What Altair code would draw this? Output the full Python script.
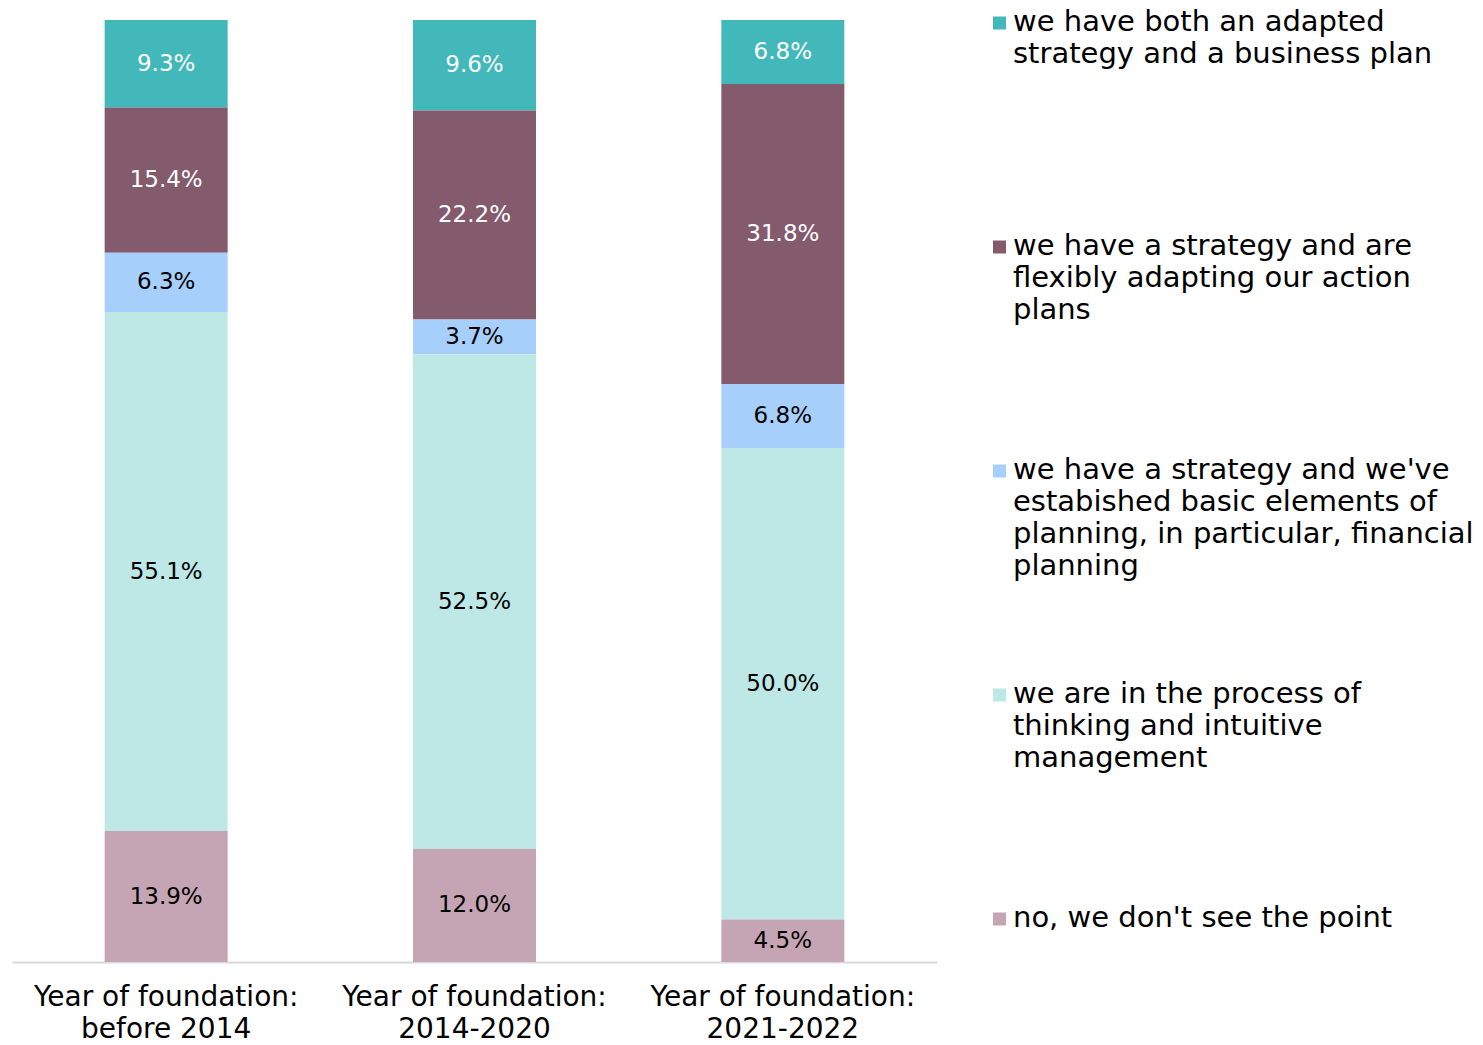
import altair as alt
import pandas as pd

groups = ["before 2014", "2014-2020", "2021-2022"]
categories = [
    "we have both an adapted|strategy and a business plan",
    "we have a strategy and are|flexibly adapting our action|plans",
    "we have a strategy and we've|estabished basic elements of|planning, in particular, financial|planning",
    "we are in the process of|thinking and intuitive|management",
    "no, we don't see the point",
]
colors = ["#43B8BA", "#845A6D", "#A7CFFC", "#BDE8E6", "#C5A5B3"]
label_colors = ["white", "white", "black", "black", "black"]
values = {
    "before 2014": [9.3, 15.4, 6.3, 55.1, 13.9],
    "2014-2020": [9.6, 22.2, 3.7, 52.5, 12.0],
    "2021-2022": [6.8, 31.8, 6.8, 50.0, 4.5],
}

rows = []
for g in groups:
    for i, c in enumerate(categories):
        rows.append({"group": g, "category": c, "value": values[g][i],
                     "order": i, "txtcolor": label_colors[i],
                     "label": f"{values[g][i]:.1f}%"})
df = pd.DataFrame(rows)
legend_df = pd.DataFrame({"category": categories})

FONT = "DejaVu Sans"
color_scale = alt.Scale(domain=categories, range=colors)

base = alt.Chart(df).transform_stack(
    stack="value", groupby=["group"], as_=["y0", "y1"], offset="normalize",
    sort=[alt.SortField("order", order="descending")]
).transform_calculate(mid="(datum.y0 + datum.y1) / 2")

x_enc = alt.X("group:N", sort=groups, title=None,
              scale=alt.Scale(paddingInner=0, paddingOuter=0),
              axis=alt.Axis(labelExpr="['Year of foundation:', datum.label]",
                            labelAngle=0, labelFontSize=28, labelFont=FONT,
                            labelColor="black", labelLineHeight=32,
                            labelPadding=21, labelBaseline="top", labelLimit=500,
                            ticks=False, domainColor="#D9D9D9", domainWidth=2,
                            grid=False))
y_scale = alt.Scale(domain=[0, 1])

bars = base.mark_bar(size=123).encode(
    x=x_enc,
    y=alt.Y("y0:Q", scale=y_scale, axis=None),
    y2="y1:Q",
    color=alt.Color("category:N", scale=color_scale, legend=None),
)

texts = base.mark_text(fontSize=23, font=FONT).encode(
    x=alt.X("group:N", sort=groups),
    y=alt.Y("mid:Q", scale=y_scale),
    text="label:N",
    color=alt.Color("txtcolor:N", scale=None),
)

main = alt.layer(bars, texts).properties(width=925, height=942)

leg_y = alt.Y("category:N", sort=categories, axis=None,
              scale=alt.Scale(type="point", padding=0, range=[3, 899]))
leg_sq = alt.Chart(legend_df).mark_square(size=169, opacity=1).encode(
    x=alt.value(6.5), y=leg_y,
    color=alt.Color("category:N", scale=color_scale, legend=None),
)
leg_tx = alt.Chart(legend_df).mark_text(
    align="left", baseline="top", lineBreak="|", lineHeight=32,
    fontSize=29, font=FONT, color="black", dy=-15,
).encode(x=alt.value(20), y=leg_y, text="category:N")
legend = alt.layer(leg_sq, leg_tx).properties(width=470, height=942)

chart = alt.hconcat(main, legend, spacing=56).properties(
    padding={"left": 4, "top": 0, "right": 0, "bottom": 0},
).configure_view(strokeWidth=0, stroke=None)

chart.save("out.html", embed_options={"renderer": "svg", "actions": False})
